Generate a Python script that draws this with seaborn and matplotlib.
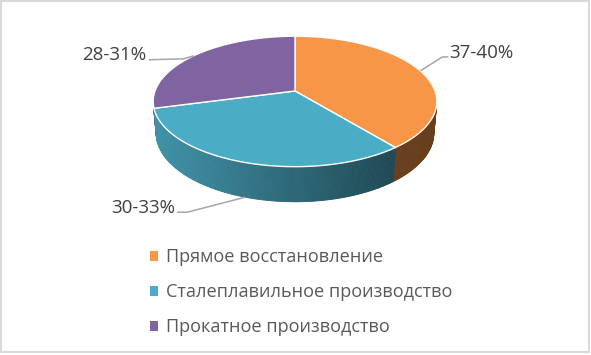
import numpy as np
import matplotlib
matplotlib.use("Agg")
import matplotlib.pyplot as plt
from matplotlib.patches import Polygon, Patch, Rectangle
import seaborn as sns

# data
categories = ["Прямое восстановление", "Сталеплавильное производство", "Прокатное производство"]
shares = [39.2, 31.6, 29.2]
value_labels = ["37-40%", "30-33%", "28-31%"]
colors = ["#F79646", "#4BACC6", "#8064A2"]

sns.set_style("white")
plt.rcParams["font.family"] = ["Open Sans", "DejaVu Sans"]

# 3d view of the pie (pixel units)
CX, CY, R = 295, 91, 140
ELEV = np.radians(27)
DIST = 5.57
DEPTH = 0.255


def project(theta, z=0.0):
    x = np.sin(theta)
    y = np.cos(theta)
    depth = y * np.cos(ELEV) - z * np.sin(ELEV)
    f = DIST / (DIST + depth)
    v = (z * np.cos(ELEV) + y * np.sin(ELEV)) * f
    return CX + R * x * f, CY - R * v


def shade(color, sx):
    # darker towards the right side of the drum
    k = np.clip(0.85 - (sx - 155) / 240 * 0.43, 0.42, 0.85)
    rgb = np.array(matplotlib.colors.to_rgb(color))
    return tuple(rgb * k)


fig = plt.figure(figsize=(5.91, 3.55), dpi=100)
ax = fig.add_axes([0, 0, 1, 1])
ax.set_xlim(0, 591)
ax.set_ylim(355, 0)
ax.axis("off")

fracs = np.array(shares) / np.sum(shares)
bounds = np.concatenate([[0], np.cumsum(fracs)]) * 2 * np.pi

# side of the drum, only the part facing the camera, back to front
limit = -1.0 / (DIST * np.cos(ELEV))
quads = []
for i in range(len(shares)):
    ts = np.linspace(bounds[i], bounds[i + 1], 160)
    for a, b in zip(ts[:-1], ts[1:]):
        m = (a + b) / 2
        if np.cos(m) >= limit:
            continue
        pts = [project(a), project(b), project(b, -DEPTH), project(a, -DEPTH)]
        quads.append((np.cos(m), pts, shade(colors[i], project(m)[0])))
quads.sort(key=lambda q: -q[0])
for _, pts, c in quads:
    ax.add_patch(Polygon(pts, closed=True, facecolor=c, edgecolor=c, lw=0.6))

# top face
for i in range(len(shares)):
    ts = np.linspace(bounds[i], bounds[i + 1], 200)
    pts = [(CX, CY)] + [project(t) for t in ts]
    ax.add_patch(Polygon(pts, closed=True, facecolor=colors[i],
                         edgecolor="white", lw=1.0, joinstyle="round"))

# data labels with leader lines
mids = (bounds[:-1] + bounds[1:]) / 2
anchor_z = [0.0, -DEPTH, 0.0]
elbows = [(22, -14), (-58, 15), (-10, 3)]
tails = [6, -10, -35]
for i, lab in enumerate(value_labels):
    ax0, ay0 = project(mids[i], anchor_z[i])
    ex, ey = ax0 + elbows[i][0], ay0 + elbows[i][1]
    tx = ex + tails[i]
    ax.plot([ax0, ex, tx], [ay0, ey, ey + (1 if i == 2 else 0)],
            color="#A6A6A6", lw=1.1, solid_capstyle="butt")
    ha = "left" if tails[i] > 0 else "right"
    ax.text(tx + (1 if tails[i] > 0 else -2), ey + 1, lab, ha=ha, va="baseline",
            fontsize=13.5, color="#404040")

# legend
handles = [Patch(facecolor=c, edgecolor="none") for c in colors]
ax.legend(handles, categories, loc="upper left", bbox_to_anchor=(0.253, 0.30),
          frameon=False, fontsize=13.1, labelcolor="#595959",
          handlelength=0.45, handleheight=0.45, handletextpad=0.45,
          labelspacing=0.93, borderpad=0, borderaxespad=0)

ax.add_patch(Rectangle((1, 1), 588, 351, fill=False, edgecolor="#D9D9D9", lw=1.5))

fig.savefig("out.png", dpi=100, facecolor="white")
